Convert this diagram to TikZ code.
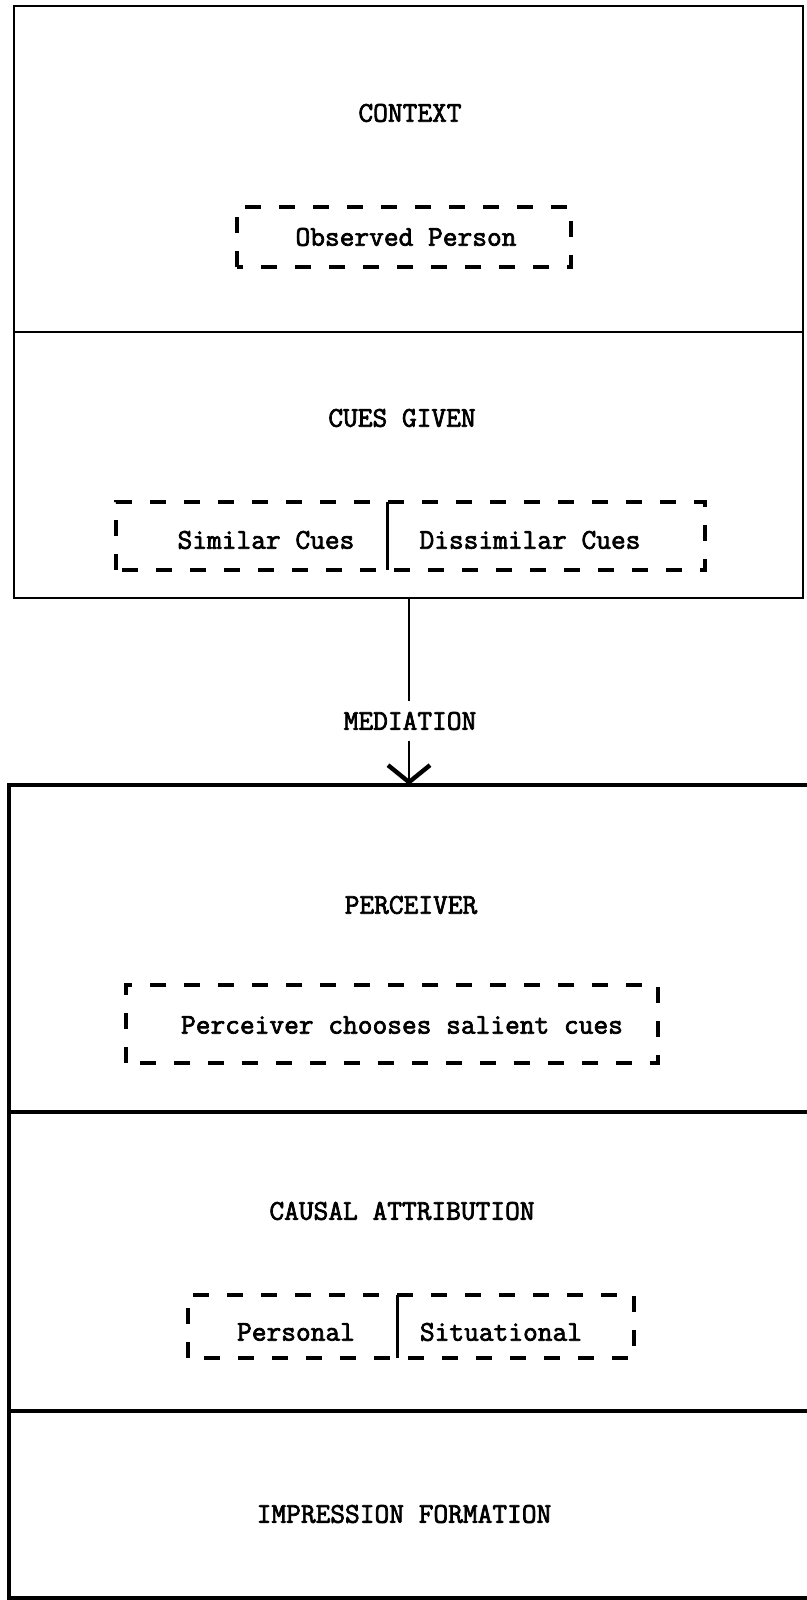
\documentclass[tikz,border=0pt]{standalone}
\usepackage{fontspec}
\usetikzlibrary{arrows.meta}
\newfontfamily\typefont{Latin Modern Mono}[FakeBold=2.5]
\tikzset{
  lbl/.style={font=\typefont\fontsize{14.3}{17}\selectfont, inner sep=0pt},
  dbox/.style={line width=2pt, dash pattern=on 8pt off 9pt},
  upframe/.style={line width=1.4pt},
  lowframe/.style={line width=2.2pt},
}

\begin{document}
\begin{tikzpicture}[x=0.5pt,y=0.5pt,>={Straight Barb[length=8.5pt,width=21pt,line width=2.2pt]}]
\clip (0,0) rectangle (807,1600);

% upper box: context and cues
\draw[upframe] (14,1002) rectangle (803,1594);
\draw[upframe] (14,1268)--(803,1268);
\node[lbl] (context) at (410,1487) {CONTEXT};
\draw[dbox] (237,1333) rectangle (571,1393);
\node[lbl] (observed) at (406,1363) {Observed Person};

\node[lbl] (cues) at (402,1182) {CUES GIVEN};
\draw[dbox] (116,1030) rectangle (705,1098);
\draw[line width=1.5pt] (387,1030)--(387,1098);
\node[lbl] (similar) at (266,1060) {Similar Cues};
\node[lbl] (dissimilar) at (530,1060) {Dissimilar Cues};

% mediation arrow
\coordinate (upper) at (409,1002);
\coordinate (lower) at (409,815);
\node[lbl, inner ysep=5.1pt] (mediation) at (410,879) {MEDIATION};
\draw[line width=1.3pt] (upper)--(upper|-mediation.north);
\draw[->, line width=1.3pt] (upper|-mediation.south)--(lower);

% lower box: perceiver, attribution, impression
\draw[lowframe] (9,2) rectangle (815,815);
\draw[lowframe] (9,488)--(815,488);
\draw[lowframe] (9,189)--(815,189);

\node[lbl] (perceiver) at (411,695) {PERCEIVER};
\draw[dbox] (126,537) rectangle (658,615);
\node[lbl] (chooses) at (402,575) {Perceiver chooses salient cues};

\node[lbl] (causal) at (402,389) {CAUSAL ATTRIBUTION};
\draw[dbox] (188,242) rectangle (634,305);
\draw[line width=1.5pt] (397,242)--(397,305);
\node[lbl] (personal) at (296,268) {Personal};
\node[lbl] (situational) at (501,268) {Situational};

\node[lbl] (impression) at (404,86) {IMPRESSION FORMATION};

\end{tikzpicture}
\end{document}
